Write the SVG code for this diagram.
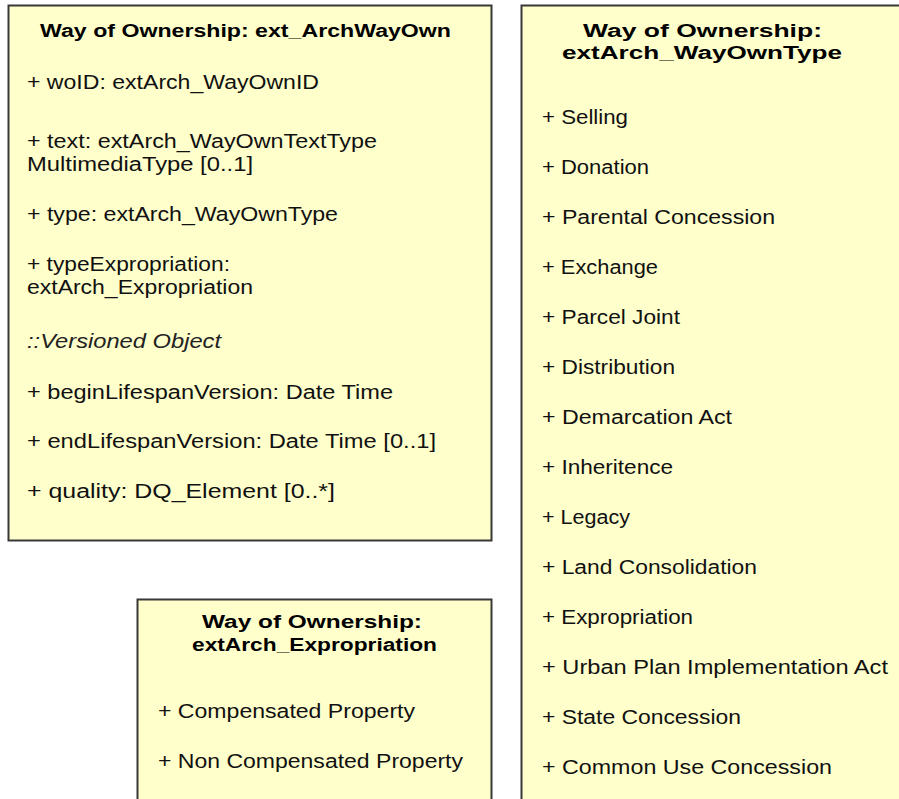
<svg xmlns="http://www.w3.org/2000/svg" width="899" height="799" viewBox="0 0 899 799">
<style>
.box{fill:#FFFFCC;stroke:#383838;stroke-width:2}
.t{font-family:"Liberation Sans",Arial,sans-serif;font-size:17.5px;font-weight:bold;fill:#000}
.a{font-family:"Liberation Sans",Arial,sans-serif;font-size:19.5px;fill:#111}
.i{font-family:"Liberation Sans",Arial,sans-serif;font-size:19.5px;font-style:italic;fill:#222}
</style>
<rect width="899" height="799" fill="#ffffff"/>
<g id="ext_ArchWayOwn">
<rect class="box" x="8.5" y="5.5" width="483" height="535"/>
<text class="t" x="40" y="37" textLength="411" lengthAdjust="spacingAndGlyphs">Way of Ownership: ext_ArchWayOwn</text>
<text class="a" x="27" y="89" textLength="292" lengthAdjust="spacingAndGlyphs">+ woID:  extArch_WayOwnID</text>
<text class="a" x="27" y="148" textLength="350" lengthAdjust="spacingAndGlyphs">+ text: extArch_WayOwnTextType</text>
<text class="a" x="27" y="171" textLength="226" lengthAdjust="spacingAndGlyphs">MultimediaType  [0..1]</text>
<text class="a" x="27" y="221" textLength="311" lengthAdjust="spacingAndGlyphs">+ type: extArch_WayOwnType</text>
<text class="a" x="27" y="271" textLength="203" lengthAdjust="spacingAndGlyphs">+ typeExpropriation:</text>
<text class="a" x="27" y="294" textLength="226" lengthAdjust="spacingAndGlyphs">extArch_Expropriation</text>
<text class="i" x="27" y="348" textLength="194" lengthAdjust="spacingAndGlyphs">::Versioned Object</text>
<text class="a" x="27" y="399" textLength="366" lengthAdjust="spacingAndGlyphs">+ beginLifespanVersion:  Date Time</text>
<text class="a" x="27" y="448" textLength="409" lengthAdjust="spacingAndGlyphs">+ endLifespanVersion:  Date Time [0..1]</text>
<text class="a" x="27" y="498" textLength="308" lengthAdjust="spacingAndGlyphs">+ quality: DQ_Element  [0..*]</text>
</g>
<g id="extArch_WayOwnType">
<rect class="box" x="521.5" y="5.5" width="400" height="810"/>
<text class="t" x="583" y="37" textLength="239" lengthAdjust="spacingAndGlyphs">Way of Ownership:</text>
<text class="t" x="562" y="59" textLength="280" lengthAdjust="spacingAndGlyphs">extArch_WayOwnType</text>
<text class="a" x="542" y="124" textLength="86" lengthAdjust="spacingAndGlyphs">+ Selling</text>
<text class="a" x="542" y="174" textLength="107" lengthAdjust="spacingAndGlyphs">+ Donation</text>
<text class="a" x="542" y="224" textLength="233" lengthAdjust="spacingAndGlyphs">+ Parental  Concession</text>
<text class="a" x="542" y="274" textLength="116" lengthAdjust="spacingAndGlyphs">+ Exchange</text>
<text class="a" x="542" y="324" textLength="138" lengthAdjust="spacingAndGlyphs">+ Parcel Joint</text>
<text class="a" x="542" y="374" textLength="133" lengthAdjust="spacingAndGlyphs">+ Distribution</text>
<text class="a" x="542" y="424" textLength="190" lengthAdjust="spacingAndGlyphs">+ Demarcation Act</text>
<text class="a" x="542" y="474" textLength="131" lengthAdjust="spacingAndGlyphs">+ Inheritence</text>
<text class="a" x="542" y="524" textLength="88" lengthAdjust="spacingAndGlyphs">+ Legacy</text>
<text class="a" x="542" y="574" textLength="215" lengthAdjust="spacingAndGlyphs">+ Land  Consolidation</text>
<text class="a" x="542" y="624" textLength="151" lengthAdjust="spacingAndGlyphs">+ Expropriation</text>
<text class="a" x="542" y="674" textLength="346" lengthAdjust="spacingAndGlyphs">+ Urban  Plan Implementation  Act</text>
<text class="a" x="542" y="724" textLength="199" lengthAdjust="spacingAndGlyphs">+ State Concession</text>
<text class="a" x="542" y="774" textLength="290" lengthAdjust="spacingAndGlyphs">+ Common  Use  Concession</text>
</g>
<g id="extArch_Expropriation">
<rect class="box" x="137.5" y="599.5" width="354" height="215"/>
<text class="t" x="202" y="628" textLength="220" lengthAdjust="spacingAndGlyphs">Way of Ownership:</text>
<text class="t" x="192" y="651" textLength="245" lengthAdjust="spacingAndGlyphs">extArch_Expropriation</text>
<text class="a" x="158" y="718" textLength="257" lengthAdjust="spacingAndGlyphs">+ Compensated  Property</text>
<text class="a" x="158" y="768" textLength="305" lengthAdjust="spacingAndGlyphs">+ Non  Compensated  Property</text>
</g>
<g id="connectors"></g>
</svg>
